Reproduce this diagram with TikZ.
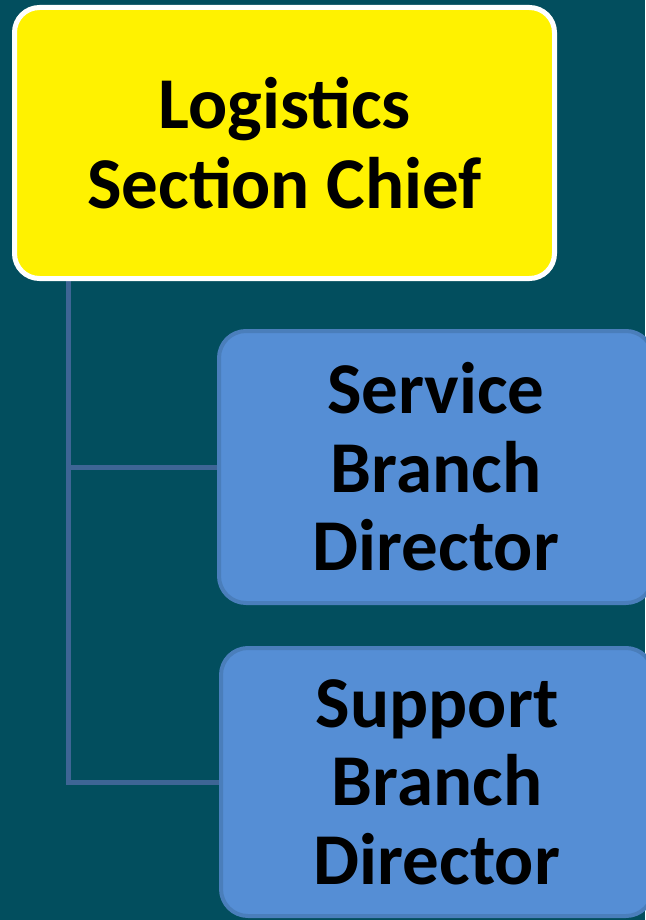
\documentclass[tikz,border=0pt]{standalone}
\usepackage{fontspec}
\setmainfont{Carlito}
\usetikzlibrary{backgrounds}
\definecolor{bg}{RGB}{2,78,94}
\definecolor{boxblue}{RGB}{85,142,213}
\definecolor{boxedge}{RGB}{74,126,187}
\definecolor{conn}{RGB}{62,101,149}
\tikzset{
  chiefbox/.style={draw=white, line width=5pt, fill=yellow, rounded corners=25pt,
    align=center, font=\fontsize{73}{80}\selectfont\bfseries, inner sep=0pt},
  branchbox/.style={draw=boxedge, line width=4pt, fill=boxblue, rounded corners=27pt,
    align=center, font=\fontsize{73}{78.5}\selectfont\bfseries, inner sep=0pt},
  connline/.style={draw=conn, line width=5pt}
}
\begin{document}
\begin{tikzpicture}
\useasboundingbox (0pt,0pt) rectangle (645pt,-920pt);
\node[chiefbox, minimum width=540pt, minimum height=271pt] (chief) at (284.5pt,-143pt) {Logistics\\Section Chief};
\node[branchbox, minimum width=434pt, minimum height=272pt] (svc) at (436pt,-467pt) {Service\\Branch\\Director};
\node[branchbox, minimum width=432pt, minimum height=268pt] (sup) at (437pt,-782pt) {Support\\Branch\\Director};
\coordinate (c0) at (68pt,-279pt);
\begin{scope}[on background layer]
\fill[bg] (0pt,0pt) rectangle (645pt,-920pt);
\draw[connline] (c0) |- (svc.west);
\draw[connline] (c0) |- (sup.west);
\end{scope}
\end{tikzpicture}
\end{document}
